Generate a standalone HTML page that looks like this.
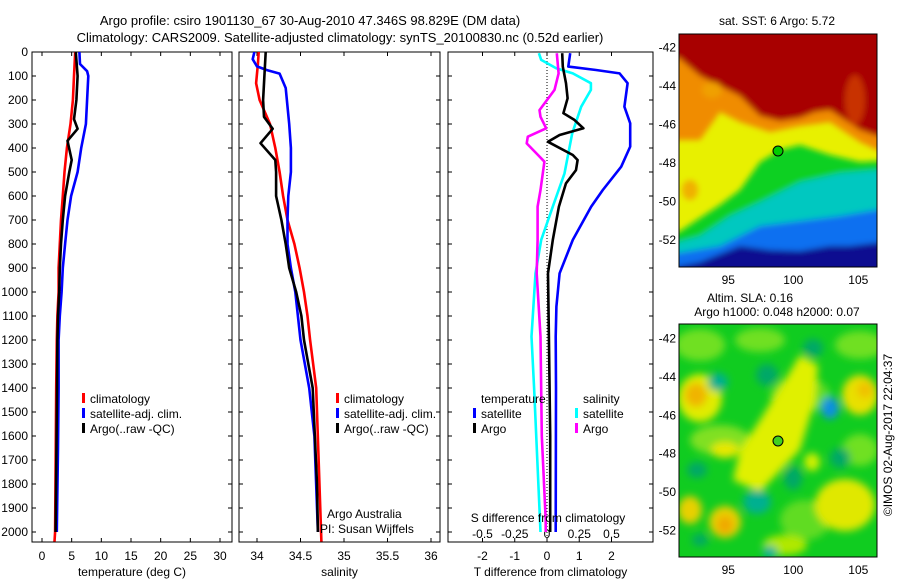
<!DOCTYPE html>
<html><head><meta charset="utf-8">
<style>
html,body{margin:0;padding:0;background:#fff;}
svg{display:block;font-family:"Liberation Sans",sans-serif;}
text{fill:#000;}
</style></head>
<body>
<svg id="chart" width="900" height="580" viewBox="0 0 900 580" xmlns="http://www.w3.org/2000/svg">
<defs>
  <clipPath id="clipTop"><rect x="679" y="34" width="198" height="233"/></clipPath>
  <clipPath id="clipBot"><rect x="679" y="324" width="198" height="233"/></clipPath>
  <clipPath id="clipP1"><rect x="32" y="52" width="200" height="490"/></clipPath>
  <clipPath id="clipP2"><rect x="239" y="52" width="201" height="490"/></clipPath>
  <clipPath id="clipP3"><rect x="448" y="52" width="205" height="490"/></clipPath>
  <filter id="blur3" x="-10%" y="-10%" width="120%" height="120%"><feGaussianBlur stdDeviation="3"/></filter>
  <filter id="blur5" x="-30%" y="-30%" width="160%" height="160%"><feGaussianBlur stdDeviation="4"/></filter>
</defs>

<text x="310" y="25" font-size="13" text-anchor="middle">Argo profile: csiro 1901130_67 30-Aug-2010 47.346S 98.829E (DM data)</text>
<text x="340" y="42" font-size="13" text-anchor="middle">Climatology: CARS2009. Satellite-adjusted climatology: synTS_20100830.nc (0.52d earlier)</text>

<g id="axes"></g>
<g id="series"></g>

<g font-size="12">
  <rect x="82" y="393" width="3" height="10" fill="#f00"/><text x="90" y="403">climatology</text>
  <rect x="82" y="408" width="3" height="10" fill="#00f"/><text x="90" y="418">satellite-adj. clim.</text>
  <rect x="82" y="423" width="3" height="10" fill="#000"/><text x="90" y="433">Argo(..raw -QC)</text>
</g>
<g font-size="12">
  <rect x="336" y="393" width="3" height="10" fill="#f00"/><text x="344" y="403">climatology</text>
  <rect x="336" y="408" width="3" height="10" fill="#00f"/><text x="344" y="418">satellite-adj. clim.</text>
  <rect x="336" y="423" width="3" height="10" fill="#000"/><text x="344" y="433">Argo(..raw -QC)</text>
</g>
<text x="327" y="518" font-size="12">Argo Australia</text>
<text x="320" y="533" font-size="12">PI: Susan Wijffels</text>
<g font-size="12">
  <text x="481" y="403">temperature</text>
  <text x="583" y="403">salinity</text>
  <rect x="473" y="408" width="3" height="10" fill="#00f"/><text x="481" y="418">satellite</text>
  <rect x="473" y="423" width="3" height="10" fill="#000"/><text x="481" y="433">Argo</text>
  <rect x="575" y="408" width="3" height="10" fill="#0ff"/><text x="583" y="418">satellite</text>
  <rect x="575" y="423" width="3" height="10" fill="#f0f"/><text x="583" y="433">Argo</text>
</g>
<text x="548" y="522" font-size="12" text-anchor="middle">S difference from climatology</text>

<g>
  <g clip-path="url(#clipTop)">
    <rect x="679" y="34" width="198" height="233" fill="#e8f000"/>
    <g filter="url(#blur3)">
      <path d="M660,20 L900,20 L900,150 L877,150 L860,142 L830,122 L800,126 L770,132 L740,122 L720,112 L700,140 L660,140 Z" fill="#f08c00"/>
      <path d="M660,20 L900,20 L900,138 L877,136 L860,130 L845,120 L830,110 L815,112 L800,118 L780,121 L760,116 L740,96 L720,86 L700,76 L679,58 L660,58 Z" fill="#a80000"/>
      <path d="M660,234 L679,232 L700,218 L720,205 L740,190 L760,162 L780,150 L800,145 L830,155 L860,162 L900,160 L900,300 L660,300 Z" fill="#10d020"/>
      <path d="M660,247 L700,236 L730,216 L760,202 L800,182 L840,173 L900,168 L900,300 L660,300 Z" fill="#00c8c0"/>
      <path d="M660,256 L720,246 L760,226 L800,221 L840,216 L900,206 L900,300 L660,300 Z" fill="#1070f0"/>
      <path d="M660,270 L700,262 L740,246 L770,250 L800,251 L830,246 L850,246 L900,240 L900,300 L660,300 Z" fill="#0a0a90"/>
      <ellipse cx="690" cy="190" rx="8" ry="10" fill="#f0b000"/>
      <ellipse cx="712" cy="90" rx="10" ry="8" fill="#f0a000"/>
      <ellipse cx="855" cy="100" rx="10" ry="25" fill="#c83000"/>
    </g>
  </g>
  <rect x="679" y="34" width="198" height="233" fill="none" stroke="#000"/>
  <circle cx="778" cy="151" r="5" fill="#00cc00" stroke="#000"/>
  <text x="777" y="25" font-size="12" text-anchor="middle">sat. SST: 6 Argo: 5.72</text>
</g>

<g>
  <g clip-path="url(#clipBot)">
    <rect x="679" y="324" width="198" height="233" fill="#10cc20"/>
    <g filter="url(#blur5)">
      <ellipse cx="700" cy="345" rx="25" ry="16" fill="#70e020"/>
      <ellipse cx="760" cy="340" rx="25" ry="12" fill="#70e020"/>
      <ellipse cx="800" cy="395" rx="30" ry="18" fill="#60dc20"/>
      <ellipse cx="860" cy="345" rx="25" ry="14" fill="#70e020"/>
      <ellipse cx="720" cy="440" rx="30" ry="15" fill="#80e020"/>
      <ellipse cx="860" cy="450" rx="18" ry="16" fill="#70e020"/>
      <ellipse cx="805" cy="520" rx="25" ry="20" fill="#60dc20"/>
      <ellipse cx="700" cy="398" rx="22" ry="24" fill="#e0ec00"/>
      <ellipse cx="696" cy="395" rx="11" ry="12" fill="#f0b400"/>
      <path d="M733,480 L760,492 L800,450 L815,400 L818,365 L800,355 L785,380 L760,420 L740,450 Z" fill="#e0f000"/>
      <ellipse cx="725" cy="450" rx="14" ry="8" fill="#e8e800"/>
      <ellipse cx="845" cy="505" rx="30" ry="26" fill="#e0e800"/>
      <ellipse cx="860" cy="395" rx="18" ry="20" fill="#e8e000"/>
      <ellipse cx="865" cy="390" rx="8" ry="8" fill="#f0c000"/>
      <ellipse cx="725" cy="522" rx="16" ry="16" fill="#e8d000"/>
      <ellipse cx="725" cy="525" rx="8" ry="9" fill="#f0a800"/>
      <ellipse cx="690" cy="510" rx="12" ry="14" fill="#e8d000"/>
      <ellipse cx="812" cy="462" rx="8" ry="9" fill="#d0f000"/>
      <ellipse cx="785" cy="545" rx="22" ry="10" fill="#b0e800"/>
      <ellipse cx="830" cy="408" rx="9" ry="11" fill="#1090e0"/>
      <ellipse cx="718" cy="382" rx="10" ry="9" fill="#00b090"/>
      <ellipse cx="767" cy="375" rx="11" ry="11" fill="#00a868"/>
      <ellipse cx="813" cy="348" rx="10" ry="9" fill="#00a868"/>
      <ellipse cx="757" cy="502" rx="14" ry="12" fill="#00b090"/>
      <ellipse cx="793" cy="478" rx="9" ry="12" fill="#00a868"/>
      <ellipse cx="770" cy="552" rx="7" ry="6" fill="#00b0a0"/>
      <ellipse cx="697" cy="470" rx="10" ry="8" fill="#00a868"/>
      <ellipse cx="840" cy="458" rx="10" ry="10" fill="#00a868"/>
      <ellipse cx="700" cy="540" rx="8" ry="6" fill="#00a868"/>
    </g>
  </g>
  <rect x="679" y="324" width="198" height="233" fill="none" stroke="#000"/>
  <circle cx="778" cy="441" r="5" fill="#40d020" stroke="#000"/>
  <text x="750" y="302" font-size="12" text-anchor="middle">Altim. SLA: 0.16</text>
  <text x="777" y="316" font-size="12" text-anchor="middle">Argo h1000: 0.048 h2000: 0.07</text>
</g>
<text transform="translate(892,435) rotate(-90)" font-size="12" text-anchor="middle">©IMOS 02-Aug-2017 22:04:37</text>

<script>
var depthTicks = [0,100,200,300,400,500,600,700,800,900,1000,1100,1200,1300,1400,1500,1600,1700,1800,1900,2000];
var tempTicks = [0,5,10,15,20,25,30];
var salTicks = [34,34.5,35,35.5,36];
var salTickLabels = ["34","34.5","35","35.5","36"];
var tdiffTicks = [-2,-1,0,1,2];
var sdiffTicks = [-0.5,-0.25,0,0.25,0.5];
var sdiffTickLabels = ["-0.5","-0.25","0","0.25","0.5"];
var lonTicks = [95,100,105];
var latTicks = [-42,-44,-46,-48,-50,-52];

var tClimDepth = [0,100,200,300,400,500,600,700,800,900,1000,1100,1200,1400,2000,2040];
var tClimVal   = [5.6,5.4,5.2,4.8,4.2,3.8,3.5,3.2,3.0,2.8,2.8,2.6,2.5,2.4,2.2,2.1];
var tSatDepth = [0,50,80,100,200,300,400,500,600,700,800,900,1000,1100,1200,1400,1650,2000];
var tSatVal   = [6.3,6.4,7.6,7.8,7.6,7.4,6.6,6.0,4.9,4.3,3.9,3.5,3.3,3.0,2.8,2.8,2.7,2.5];
var tArgoDepth = [0,100,200,280,320,370,450,500,600,700,800,900,1000,1100,1200,1500,2000];
var tArgoVal   = [5.7,6.0,5.8,5.4,6.0,4.3,5.0,4.6,3.9,3.5,3.2,3.0,2.9,2.7,2.6,2.5,2.3];

var sClimDepth = [0,50,130,200,300,400,500,600,700,800,900,1000,1100,1200,1400,2040];
var sClimVal   = [34.02,34.01,33.99,34.03,34.15,34.21,34.26,34.30,34.35,34.43,34.49,34.54,34.58,34.61,34.68,34.74];
var sSatDepth = [0,30,60,75,90,150,300,400,500,600,700,800,900,1000,1100,1200,1400,1600,2000];
var sSatVal   = [33.97,33.95,34.00,34.11,34.26,34.33,34.37,34.39,34.39,34.36,34.35,34.35,34.39,34.44,34.47,34.50,34.60,34.66,34.70];
var sArgoDepth = [0,200,270,320,380,450,500,600,700,800,900,1000,1100,1200,1400,1800,2000];
var sArgoVal   = [34.10,34.07,34.08,34.18,34.04,34.21,34.22,34.22,34.28,34.33,34.37,34.45,34.51,34.54,34.64,34.69,34.70];

var dTSatDepth = [5,61,75,89,130,228,297,394,478,575,644,783,922,1061,1186,1400,2000];
var dTSatVal   = [0.72,0.66,1.52,2.25,2.5,2.40,2.58,2.58,2.30,1.73,1.37,0.80,0.39,0.29,0.27,0.28,0.27];
var dTArgoDepth = [5,61,130,193,255,283,318,346,374,429,450,492,547,644,783,922,1186,1600,2000];
var dTArgoVal   = [0.47,0.49,0.59,0.64,0.51,0.85,1.13,0.39,0.03,0.80,0.95,0.90,0.59,0.37,0.18,0.03,0.06,0.10,0.10];
var dSSatDepth = [5,33,68,89,130,158,228,339,506,644,783,922,1186,1400,2000];
var dSSatVal   = [-0.063,-0.045,0.071,0.20,0.34,0.34,0.265,0.195,0.136,0.045,-0.045,-0.089,-0.12,-0.10,-0.05];
var dSArgoDepth = [5,61,89,158,242,270,318,353,381,429,457,575,644,783,922,1186,1600,1950,2000];
var dSArgoVal   = [0.076,0.085,0.09,0.058,-0.058,-0.05,-0.006,-0.149,-0.157,-0.07,-0.02,-0.05,-0.073,-0.073,-0.08,-0.05,-0.04,-0.01,-0.01];

var Y0 = 52, Y1 = 542, DMAX = (542-52)/0.24;
function yD(d){ return Y0 + d*(Y1-Y0)/DMAX; }
function scale(d0,d1,r0,r1){ return function(v){ return r0 + (v-d0)*(r1-r0)/(d1-d0); }; }
var xT = scale(0,30,42,220);
var xS = scale(34,36,257,431);
var xTd = scale(-2,2,482.5,611.5);
var xSd = function(v){ return xTd(v*4); };
var lonX = scale(95,105,728.3,858.3);
var latTopY = scale(-42,-52,47.3,240);
var latBotY = scale(-42,-52,338.3,530.7);

var NS = "http://www.w3.org/2000/svg";
var axes = document.getElementById('axes');
var series = document.getElementById('series');
function mk(tag, attrs, parent){
  var e = document.createElementNS(NS, tag);
  for (var k in attrs) e.setAttribute(k, attrs[k]);
  parent.appendChild(e);
  return e;
}

var panels = [
  {x0:32, x1:232, name:'temperature-panel', ticks:tempTicks, labels:tempTicks.map(String), fx:xT, title:'temperature (deg C)', yl:true},
  {x0:239, x1:440, name:'salinity-panel', ticks:salTicks, labels:salTickLabels, fx:xS, title:'salinity', yl:false},
  {x0:448, x1:653, name:'difference-panel', ticks:tdiffTicks, labels:tdiffTicks.map(String), fx:xTd, title:'T difference from climatology', yl:false}
];
panels.forEach(function(p){
  var g = mk('g', {}, axes);
  
  
  var r = mk('rect', {x:p.x0, y:Y0, width:p.x1-p.x0, height:Y1-Y0, fill:'none', stroke:'#000', 'stroke-width':1}, g);
  
  
  depthTicks.forEach(function(d){
    var y = yD(d);
    mk('line', {x1:p.x0, x2:p.x0+4, y1:y, y2:y, stroke:'#000'}, g);
    mk('line', {x1:p.x1-4, x2:p.x1, y1:y, y2:y, stroke:'#000'}, g);
    if (p.yl){
      var t = mk('text', {x:28, y:y+4, 'font-size':12, 'text-anchor':'end'}, g);
      t.textContent = d;
      
      
    }
  });
  p.ticks.forEach(function(v,i){
    var x = p.fx(v);
    mk('line', {x1:x, x2:x, y1:Y0, y2:Y0+4, stroke:'#000'}, g);
    mk('line', {x1:x, x2:x, y1:Y1-4, y2:Y1, stroke:'#000'}, g);
    var t = mk('text', {x:x, y:560, 'font-size':12, 'text-anchor':'middle'}, g);
    t.textContent = p.labels[i];
    
    
  });
  var tt = mk('text', {x:(p.x0+p.x1)/2, y:576, 'font-size':12, 'text-anchor':'middle'}, g);
  tt.textContent = p.title;
  
  
});
sdiffTicks.forEach(function(v,i){
  var t = mk('text', {x:xSd(v), y:538, 'font-size':12, 'text-anchor':'middle'}, axes);
  t.textContent = sdiffTickLabels[i];
  
  
});
var zl = mk('line', {x1:xTd(0), x2:xTd(0), y1:Y0, y2:Y1, stroke:'#000', 'stroke-dasharray':'1,2'}, axes);



[[latTopY,34,267,280],[latBotY,324,557,570]].forEach(function(m){
  lonTicks.forEach(function(v){
    var x = lonX(v);
    mk('line', {x1:x, x2:x, y1:m[1], y2:m[1]+3, stroke:'#000'}, axes);
    mk('line', {x1:x, x2:x, y1:m[2]-3, y2:m[2], stroke:'#000'}, axes);
    var t = mk('text', {x:x, y:m[3]+4, 'font-size':12, 'text-anchor':'middle'}, axes);
    t.textContent = v;
    
    
  });
  latTicks.forEach(function(v){
    var y = m[0](v);
    mk('line', {x1:679, x2:682, y1:y, y2:y, stroke:'#000'}, axes);
    mk('line', {x1:874, x2:877, y1:y, y2:y, stroke:'#000'}, axes);
    var t = mk('text', {x:676, y:y+4, 'font-size':12, 'text-anchor':'end'}, axes);
    t.textContent = v;
    
    
  });
});

function line(depths, vals, fx, color, clip, name){
  var pts = depths.map(function(d,i){ return fx(vals[i]).toFixed(1) + ',' + yD(d).toFixed(1); }).join(' ');
  var pl = mk('polyline', {points:pts, fill:'none', stroke:color, 'stroke-width':2.6, 'stroke-linejoin':'round', 'clip-path':'url(#' + clip + ')'}, series);
  
  
}
line(tClimDepth, tClimVal, xT, '#f00', 'clipP1', 'temp-climatology-line');
line(tSatDepth, tSatVal, xT, '#00f', 'clipP1', 'temp-satellite-line');
line(tArgoDepth, tArgoVal, xT, '#000', 'clipP1', 'temp-argo-line');
line(sClimDepth, sClimVal, xS, '#f00', 'clipP2', 'sal-climatology-line');
line(sSatDepth, sSatVal, xS, '#00f', 'clipP2', 'sal-satellite-line');
line(sArgoDepth, sArgoVal, xS, '#000', 'clipP2', 'sal-argo-line');
line(dTSatDepth, dTSatVal, xTd, '#00f', 'clipP3', 'tdiff-satellite-line');
line(dSSatDepth, dSSatVal, xSd, '#0ff', 'clipP3', 'sdiff-satellite-line');
line(dSArgoDepth, dSArgoVal, xSd, '#f0f', 'clipP3', 'sdiff-argo-line');
line(dTArgoDepth, dTArgoVal, xTd, '#000', 'clipP3', 'tdiff-argo-line');
</script>
</svg>
</body></html>
